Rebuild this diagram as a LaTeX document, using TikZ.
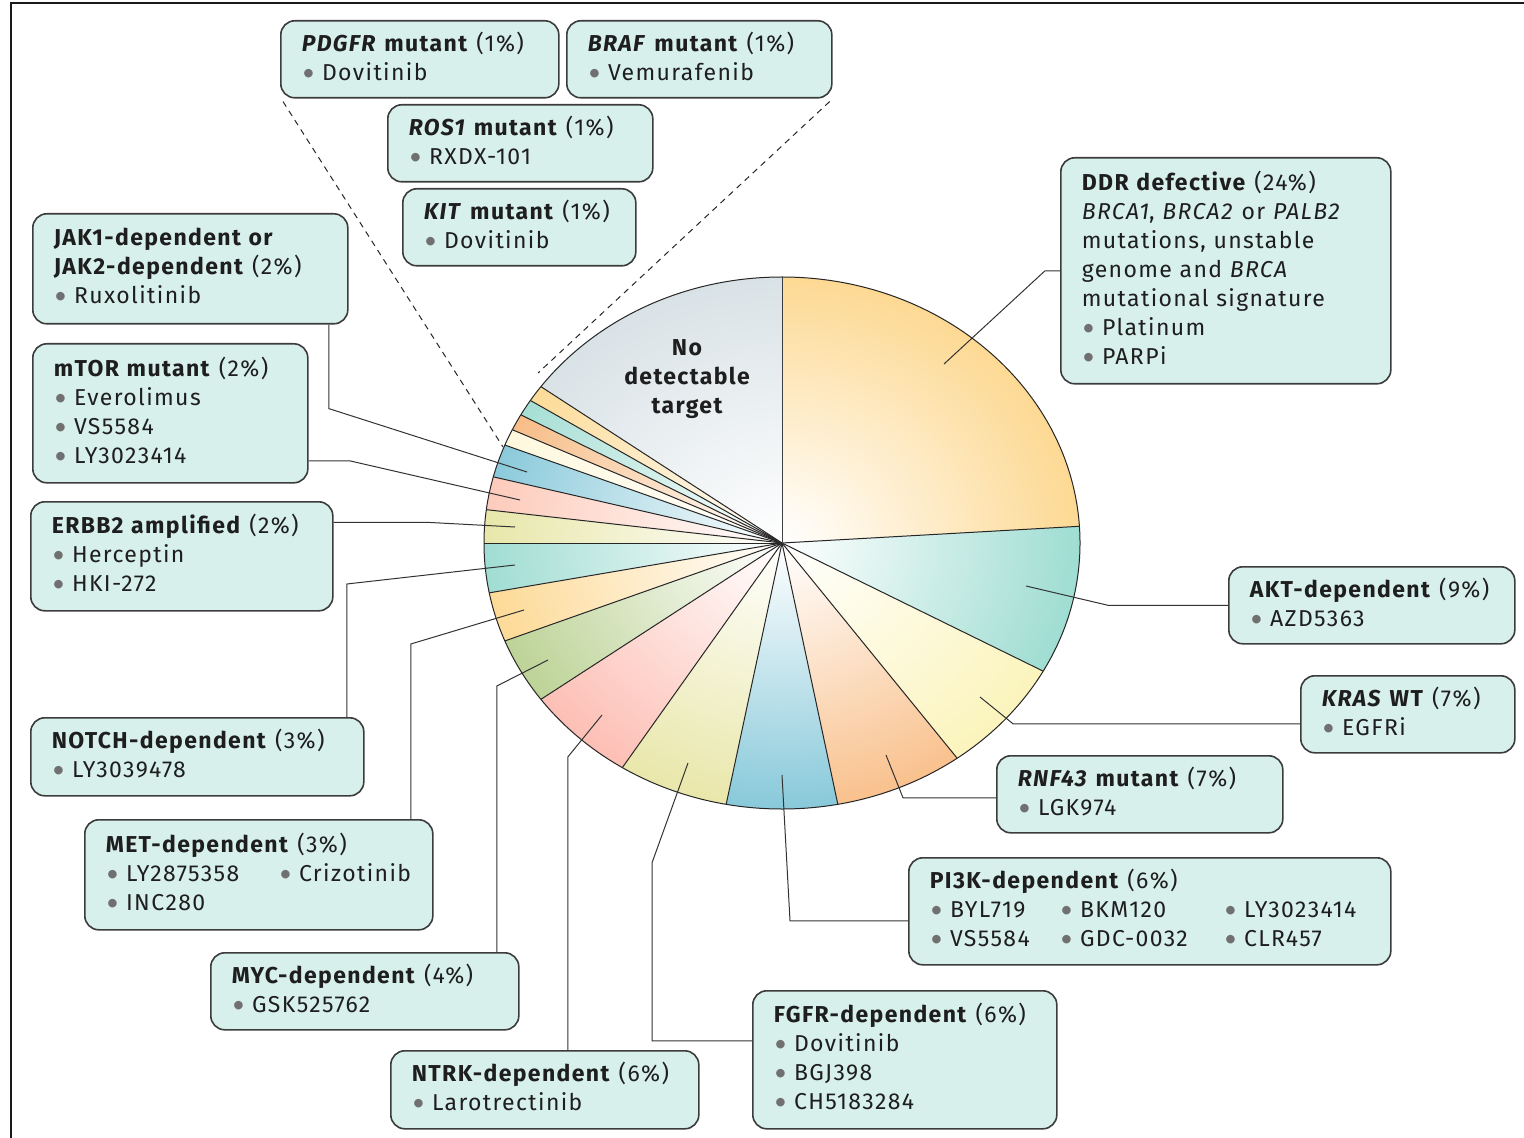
\documentclass[tikz,border=0pt]{standalone}
\usepackage{fontspec}
\setmainfont{Fira Sans}[LetterSpace=6]
\newfontfamily\bulfont{Lato}
\definecolor{boxfill}{HTML}{D7F0EB}
\definecolor{boxdraw}{HTML}{3C3C3C}
\definecolor{bulgray}{HTML}{707070}
\definecolor{txt}{HTML}{1E1E1E}
\definecolor{cDDR}{HTML}{FDD993}
\definecolor{cAKT}{HTML}{9FDDD2}
\definecolor{cKRAS}{HTML}{FBF4BC}
\definecolor{cRNF}{HTML}{F9C18D}
\definecolor{cPIK}{HTML}{88C9DA}
\definecolor{cFGFR}{HTML}{E9E7AA}
\definecolor{cNTRK}{HTML}{FDBFB5}
\definecolor{cMYC}{HTML}{BDD397}
\definecolor{cMET}{HTML}{FDDA97}
\definecolor{cNOTCH}{HTML}{A0DDD3}
\definecolor{cERBB}{HTML}{E8E7AA}
\definecolor{cMTOR}{HTML}{FDCBBB}
\definecolor{cJAK}{HTML}{8BCADB}
\definecolor{cKIT}{HTML}{FEF8DD}
\definecolor{cROS}{HTML}{F7BD87}
\definecolor{cBRAF}{HTML}{A6DFD5}
\definecolor{cPDGFR}{HTML}{FDDB98}
\definecolor{cNONE}{HTML}{D9E2E6}
\newcommand\blt{{\bulfont\color{bulgray}\textbullet}\hspace{0.3em}}
\tikzset{
  lbl/.style={draw=boxdraw, fill=boxfill, line width=0.8pt, rounded corners=7pt,
    anchor=north west, align=left, inner xsep=10.5pt, inner ysep=0pt,
    font=\fontsize{11.5}{14.5}\selectfont, text=txt,
    execute at end node={\par\vspace*{3pt}}},
  conn/.style={draw=black!80, line width=0.5pt},
  dashconn/.style={draw=black!85, line width=0.5pt, dash pattern=on 3pt off 2.5pt},
  slice/.style={draw=black!85, line width=0.5pt},
  frame/.style={draw=black!90, line width=1.25pt}
}
\begin{document}
\begin{tikzpicture}[x=0.5pt, y=-0.5pt]
\useasboundingbox (0,0) rectangle (1524,1138);
\draw[frame] (11,1138) -- (11,3) -- (1524,3);

% ---------- pie ----------
\begin{scope}[shift={(782,543)}, x=0.5pt, y=0.5pt]
\foreach \a/\b/\c in {90/3.6/cDDR, 3.6/-28.8/cAKT, -28.8/-54/cKRAS, -54/-79.2/cRNF,
  -79.2/-100.8/cPIK, -100.8/-122.4/cFGFR, -122.4/-144/cNTRK, -144/-158.4/cMYC,
  -158.4/-169.2/cMET, -169.2/-180/cNOTCH, -180/-187.2/cERBB, -187.2/-194.4/cMTOR,
  -194.4/-201.6/cJAK, -201.6/-205.2/cKIT, -205.2/-208.8/cROS, -208.8/-212.4/cBRAF,
  -212.4/-216/cPDGFR, -216/-270/cNONE}{
  \begin{scope}
    \clip (0,0) -- (\a:298 and 266) arc[start angle=\a, end angle=\b, x radius=298, y radius=266] -- cycle;
    \shade[inner color=white, outer color=\c] (0,0) ellipse [x radius=298, y radius=266];
  \end{scope}
  \draw[slice] (0,0) -- (\a:298 and 266);
}
\draw[slice] (0,0) ellipse [x radius=298, y radius=266];
\end{scope}

\node[font=\bfseries\fontsize{11.5}{14.5}\selectfont, align=center, text=txt] (none) at (687,379) {No\\detectable\\target};

% ---------- label boxes ----------
\node[lbl, text width=118pt, minimum height=38.5pt] (pdgfr) at (280,20)
  {\textbf{\textit{PDGFR} mutant} (1\%)\\\blt Dovitinib};
\node[lbl, text width=111.5pt, minimum height=38.5pt] (braf) at (566,20)
  {\textbf{\textit{BRAF} mutant} (1\%)\\\blt Vemurafenib};
\node[lbl, text width=111.5pt, minimum height=38.5pt] (ros) at (387,104)
  {\textbf{\textit{ROS1} mutant} (1\%)\\\blt RXDX-101};
\node[lbl, text width=95.5pt, minimum height=38.5pt] (kit) at (402,188)
  {\mbox{\textbf{\textit{KIT} mutant} (1\%)}\\\blt Dovitinib};
\node[lbl, text width=136.5pt, minimum height=55pt] (jak) at (32,213)
  {\textbf{JAK1-dependent or}\\\mbox{\textbf{JAK2-dependent} (2\%)}\\\blt Ruxolitinib};
\node[lbl, text width=116.5pt, minimum height=69.5pt] (mtor) at (32,343)
  {\mbox{\textbf{mTOR mutant} (2\%)}\\\blt Everolimus\\\blt VS5584\\\blt LY3023414};
\node[lbl, text width=130pt, minimum height=54.5pt] (erbb) at (30,501)
  {\mbox{\textbf{ERBB2 amplified} (2\%)}\\\blt Herceptin\\\blt HKI-272};
\node[lbl, text width=144pt, minimum height=113pt] (ddr) at (1060,157)
  {\mbox{\textbf{DDR defective} (24\%)}\\\mbox{\textit{BRCA1}, \textit{BRCA2} or \textit{PALB2}}\\\mbox{mutations, unstable}\\\mbox{genome and \textit{BRCA}}\\\mbox{mutational signature}\\\blt Platinum\\\blt PARPi};
\node[lbl, text width=122pt, minimum height=38.5pt] (akt) at (1228,566)
  {\mbox{\textbf{AKT-dependent} (9\%)}\\\blt AZD5363};
\node[lbl, text width=86pt, minimum height=38.5pt] (kras) at (1300,675)
  {\mbox{\textbf{\textit{KRAS} WT} (7\%)}\\\blt EGFRi};
\node[lbl, text width=122pt, minimum height=38.5pt] (rnf) at (996,755)
  {\mbox{\textbf{\textit{RNF43} mutant} (7\%)}\\\blt LGK974};
\node[lbl, text width=220pt, minimum height=53.5pt] (pik) at (908,857)
  {\mbox{\textbf{PI3K-dependent} (6\%)}\\
   \makebox[65pt][l]{\blt BYL719}\makebox[82pt][l]{\blt BKM120}\mbox{\blt LY3023414}\\
   \makebox[65pt][l]{\blt VS5584}\makebox[82pt][l]{\blt GDC-0032}\mbox{\blt CLR457}};
\node[lbl, text width=131pt, minimum height=69pt] (fgfr) at (752,990)
  {\mbox{\textbf{FGFR-dependent} (6\%)}\\\blt Dovitinib\\\blt BGJ398\\\blt CH5183284};
\node[lbl, text width=133pt, minimum height=39pt] (ntrk) at (390,1050)
  {\mbox{\textbf{NTRK-dependent} (6\%)}\\\blt Larotrectinib};
\node[lbl, text width=133pt, minimum height=38.5pt] (myc) at (210,952)
  {\mbox{\textbf{MYC-dependent} (4\%)}\\\blt GSK525762};
\node[lbl, text width=153pt, minimum height=55pt] (met) at (84,819)
  {\mbox{\textbf{MET-dependent} (3\%)}\\\makebox[86.5pt][l]{\blt LY2875358}\mbox{\blt Crizotinib}\\\blt INC280};
\node[lbl, text width=145.5pt, minimum height=39pt] (notch) at (30,717)
  {\mbox{\textbf{NOTCH-dependent} (3\%)}\\\blt LY3039478};

% ---------- connector end points inside the slices ----------
\coordinate (pDDR) at (944,364);
\coordinate (pAKT) at (1026,586);
\coordinate (pKRAS) at (980,697);
\coordinate (pRNF) at (886,755);
\coordinate (pPIK) at (782,775);
\coordinate (pFGFR) at (688,763);
\coordinate (pNTRK) at (602,715);
\coordinate (pMYC) at (548,660);
\coordinate (pMET) at (524,610);
\coordinate (pNOTCH) at (515,565);
\coordinate (pERBB) at (515,527);
\coordinate (pMTOR) at (520,500);
\coordinate (pJAK) at (527,472);
\coordinate (dL) at (503,447);
\coordinate (dR) at (538,373);

% ---------- connectors ----------
\draw[conn] (ddr.west) -- ++(-15,0) -- (pDDR);
\draw[conn] (akt.west) -- ++(-120,0) -- (pAKT);
\draw[conn] ([yshift=-4.75pt]kras.west) -- ++(-287,0) -- (pKRAS);
\draw[conn] ([yshift=-1.75pt]rnf.west) -- ++(-93,0) -- (pRNF);
\draw[conn] ([yshift=-4.75pt]pik.west) -- ++(-118,0) -- (pPIK);
\draw[conn] ([yshift=9.5pt]fgfr.west) -- ++(-100,0) -- ++(0,-178) -- (pFGFR);
\draw[conn] ([xshift=11.5pt]ntrk.north) -- ++(0,-293) -- (pNTRK);
\draw[conn] ([xshift=66pt]myc.north) -- ++(0,-266) -- (pMYC);
\draw[conn] ([xshift=76pt]met.north) -- ++(0,-175) -- (pMET);
\draw[conn] ([xshift=74.75pt]notch.north) -- ++(0,-133) -- (pNOTCH);
\draw[conn] ([yshift=17pt]erbb.east) -- ++(93,0) -- (pERBB);
\draw[conn] ([yshift=-23.75pt]mtor.east) -- ++(41,0) -- (pMTOR);
\draw[conn] ([xshift=69.25pt]jak.south) -- ++(0,84) -- (pJAK);
\draw[dashconn] ([shift={(1.5pt,-1.5pt)}]pdgfr.south west) -- (dL);
\draw[dashconn] ([shift={(-1.5pt,-1.5pt)}]braf.south east) -- (dR);
\end{tikzpicture}
\end{document}
